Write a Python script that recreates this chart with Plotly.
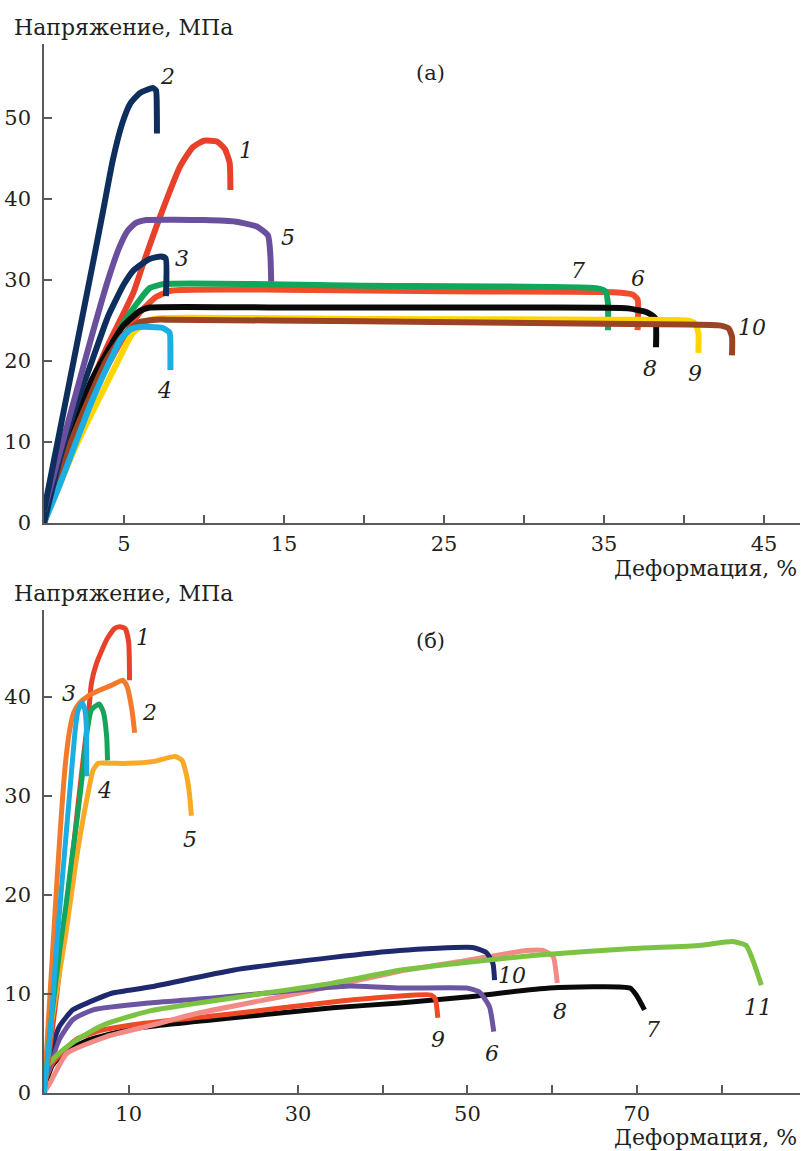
import plotly.graph_objects as go

# ---------------- Panel (a) data: strain %, stress MPa ----------------
a1_x = [0, 1, 2, 3, 4, 5, 5.6, 6.2, 7.25, 8.5, 9.3, 10, 10.8, 11.3, 11.6, 11.65]
a1_y = [0, 7, 12.5, 17.5, 22, 26, 28.5, 32, 37.8, 44, 46.4, 47.2, 47.1, 46.2, 44.5, 41.1]
a2_x = [0, 1, 2, 3.1, 3.7, 4.3, 4.9, 5.4, 6.0, 6.8, 7.0, 7.05, 7.06]
a2_y = [1.5, 11.5, 21.5, 32.5, 38.6, 44.8, 49.4, 51.8, 53.1, 53.7, 53.4, 51, 48.1]
a3_x = [0, 1, 2, 3, 4, 5, 5.6, 6.6, 7.3, 7.6, 7.62]
a3_y = [0, 8, 14.5, 20, 25.5, 29.5, 31.2, 32.6, 32.9, 32.7, 28]
a4_x = [0, 1, 2.9, 4, 4.8, 5.4, 6.0, 7.4, 7.85, 7.9, 7.9]
a4_y = [0, 4.8, 14.6, 19.5, 22.7, 23.9, 24.2, 24.1, 23.5, 21.5, 18.9]
a5_x = [0, 1, 2, 3, 4, 4.7, 5.2, 5.7, 6.4, 10, 12, 13.3, 14.0, 14.15, 14.2]
a5_y = [1.5, 8.8, 16, 23.2, 30, 34, 36, 37, 37.4, 37.4, 37.2, 36.6, 35.5, 33, 29.8]
a6_x = [0, 1, 2, 3, 4, 5, 6, 7, 8, 15, 25, 35.6, 36.8, 37.1, 37.1]
a6_y = [0, 6, 11, 15.5, 19.5, 23, 26, 27.9, 28.7, 28.8, 28.6, 28.5, 28.2, 27.6, 23.8]
a7_x = [0, 1, 2, 3, 4, 4.9, 6, 6.6, 7.5, 20, 34.5, 35.1, 35.25, 35.25]
a7_y = [0, 6, 11, 16, 20.5, 24.5, 27.6, 29.0, 29.5, 29.3, 29.0, 28.6, 27, 23.8]
a8_x = [0, 1.4, 2.9, 4.9, 6, 6.6, 15, 30, 36.5, 37.7, 38.2, 38.25]
a8_y = [0, 9, 17.3, 24.2, 26.2, 26.6, 26.6, 26.6, 26.5, 26.0, 25.3, 21.7]
a9_x = [0, 2, 4.5, 5.5, 6.5, 7.5, 20, 35, 40.2, 40.7, 40.9, 40.9]
a9_y = [0, 9.5, 19.5, 23.3, 25.0, 25.3, 25.2, 25.1, 25.0, 24.6, 23.5, 21]
a10_x = [0, 1.8, 3.9, 5, 6, 7, 8, 20, 35, 42.2, 42.8, 43, 43]
a10_y = [0, 10.6, 20.1, 23.3, 24.8, 25.1, 25.1, 24.9, 24.6, 24.4, 24.0, 23, 20.7]

a_names = ["1", "2", "3", "4", "5", "6", "7", "8", "9", "10"]
a_colors = ["#e8412b", "#0e2f5e", "#0e2f5e", "#1bafe3", "#6a4f9f",
            "#ef4d2b", "#12a65b", "#0a0a0a", "#ffd500", "#9b4323"]
a_label_x = [12.6, 7.7, 8.6, 7.56, 15.25, 37.1, 33.4, 37.9, 40.7, 44.25]
a_label_y = [46.0, 55.1, 32.7, 16.4, 35.3, 30.2, 31.2, 19.1, 18.5, 24.1]

# ---------------- Panel (б) data ----------------
b1_x = [0, 1, 2, 3, 4, 4.8, 5.3, 5.6, 6.2, 7.4, 8.3, 8.95, 9.6, 10.0, 10.1]
b1_y = [0, 6.5, 13.5, 21, 29, 35, 38.7, 41.4, 43.4, 45.8, 46.9, 47.1, 46.9, 45.5, 41.7]
b2_x = [0, 0.5, 1, 1.5, 2, 2.5, 3, 3.5, 4.2, 5.2, 6.6, 8, 9.3, 9.8, 10.4, 10.7]
b2_y = [0, 7, 14, 21, 27.5, 33, 36.5, 38.4, 39.4, 40.1, 40.7, 41.2, 41.7, 41.1, 38.6, 36.4]
b3_x = [0, 0.5, 1, 1.6, 2.4, 2.9, 3.3, 3.7, 4.0, 4.5, 4.8, 5.0, 5.05]
b3_y = [0, 4, 9, 16, 24, 29, 33, 36.8, 38.6, 39.4, 38.8, 37, 32]
b4_x = [0, 0.9, 1.85, 2.6, 3.3, 3.9, 4.6, 5.0, 5.6, 6.5, 7.0, 7.4, 7.5]
b4_y = [0, 7.7, 14.4, 19, 23.8, 27.6, 32.6, 36, 38.7, 39.3, 38.5, 36, 33.6]
b5_x = [0, 0.3, 1.0, 1.8, 2.6, 3.8, 4.6, 5.8, 6.4, 8, 10, 13, 15.5, 16.3, 16.9, 17.2, 17.4]
b5_y = [0, 2.6, 7.7, 12, 16.2, 23.5, 27.6, 32.6, 33.3, 33.3, 33.3, 33.5, 34, 33.6, 31.8, 30, 28]
b6_x = [0, 1.8, 3.4, 5.8, 12.5, 20, 26.3, 36.1, 42, 49.9, 51.4, 52.6, 53.1]
b6_y = [1, 5.4, 7.4, 8.4, 9.1, 9.6, 10.1, 10.8, 10.6, 10.6, 10.2, 8.7, 6.2]
b7_x = [0, 1, 2.7, 5.4, 10.5, 22.3, 34.1, 42, 49.9, 59.7, 69.2, 70.0, 70.9]
b7_y = [0.5, 2.8, 4.3, 5.4, 6.5, 7.6, 8.6, 9.1, 9.7, 10.6, 10.6, 9.8, 8.4]
b8_x = [0, 0.7, 2.7, 7.4, 12.5, 18.4, 30.2, 42, 49.9, 57, 58.9, 60.1, 60.6]
b8_y = [0, 1, 4, 5.7, 6.8, 8.1, 10.1, 12.3, 13.4, 14.4, 14.4, 13.8, 11.1]
b9_x = [0, 1, 2.7, 4, 6.6, 10.5, 22.3, 34.1, 42, 45.7, 46.2, 46.5]
b9_y = [1, 3, 4.6, 5.5, 6.3, 6.9, 8.0, 9.2, 9.8, 9.9, 9.5, 7.6]
b10_x = [0, 0.3, 1.8, 3.4, 5.4, 8.1, 12.5, 22.3, 34.1, 42, 50.6, 52.2, 53.0, 53.2]
b10_y = [1.5, 3, 6.7, 8.4, 9.2, 10.1, 10.7, 12.4, 13.7, 14.4, 14.7, 14.2, 13.1, 11.4]
b11_x = [0, 0.3, 1.5, 3.4, 5.5, 7.4, 12.5, 22.3, 34.1, 42, 50, 57.7, 69.5, 77.4, 81.3, 82.9, 83.7, 84.7]
b11_y = [1.5, 2.6, 3.8, 5.1, 6.2, 7.0, 8.3, 9.6, 11.1, 12.4, 13.2, 13.9, 14.6, 14.9, 15.3, 14.9, 13.4, 10.9]

b_names = ["1", "2", "3", "4", "5", "6", "7", "8", "9", "10", "11"]
b_colors = ["#e8412b", "#f27a2a", "#1aaee3", "#13a55a", "#f9aa25", "#6c55a1",
            "#0a0a0a", "#f28b86", "#ef4a25", "#1f2a6e", "#7cc243"]
b_label_x = [11.7, 12.5, 3.0, 7.2, 17.2, 52.9, 71.9, 60.9, 46.5, 55.3, 84.3]
b_label_y = [46.0, 38.4, 40.4, 30.6, 25.6, 4.0, 6.4, 8.2, 5.4, 11.9, 8.6]

a_xs = [a1_x, a2_x, a3_x, a4_x, a5_x, a6_x, a7_x, a8_x, a9_x, a10_x]
a_ys = [a1_y, a2_y, a3_y, a4_y, a5_y, a6_y, a7_y, a8_y, a9_y, a10_y]
b_xs = [b1_x, b2_x, b3_x, b4_x, b5_x, b6_x, b7_x, b8_x, b9_x, b10_x, b11_x]
b_ys = [b1_y, b2_y, b3_y, b4_y, b5_y, b6_y, b7_y, b8_y, b9_y, b10_y, b11_y]

a_order = [0, 5, 6, 7, 8, 9, 3, 2, 4, 1]
b_order = [6, 8, 7, 5, 9, 10, 0, 1, 4, 3, 2]

SERIF = "DejaVu Serif"
TXT = "#231f20"

fig = go.Figure()
for i in a_order:
    fig.add_trace(go.Scatter(x=a_xs[i], y=a_ys[i], mode="lines", name=a_names[i],
                             line=dict(color=a_colors[i], width=6, shape="spline", smoothing=0.5),
                             xaxis="x", yaxis="y", showlegend=False))
for i in b_order:
    fig.add_trace(go.Scatter(x=b_xs[i], y=b_ys[i], mode="lines", name=b_names[i],
                             line=dict(color=b_colors[i], width=5, shape="spline", smoothing=0.5),
                             xaxis="x2", yaxis="y2", showlegend=False))

ann = []
for i in range(len(a_names)):
    ann.append(dict(x=a_label_x[i], y=a_label_y[i], xref="x", yref="y", text=a_names[i],
                    showarrow=False, font=dict(family=SERIF, size=22, color=TXT, style="italic")))
for i in range(len(b_names)):
    ann.append(dict(x=b_label_x[i], y=b_label_y[i], xref="x2", yref="y2", text=b_names[i],
                    showarrow=False, font=dict(family=SERIF, size=22, color=TXT, style="italic")))

H = 1151.0
W = 802.0
def py(p):
    return 1 - p / H

TITLE_SIZE = 22
ann += [
    dict(x=12 / W, y=py(27), xref="paper", yref="paper", xanchor="left", yanchor="middle",
         text="Напряжение, МПа", showarrow=False, font=dict(family=SERIF, size=TITLE_SIZE, color=TXT)),
    dict(x=12 / W, y=py(593), xref="paper", yref="paper", xanchor="left", yanchor="middle",
         text="Напряжение, МПа", showarrow=False, font=dict(family=SERIF, size=TITLE_SIZE, color=TXT)),
    dict(x=799 / W, y=py(568), xref="paper", yref="paper", xanchor="right", yanchor="middle",
         text="Деформация, %", showarrow=False, font=dict(family=SERIF, size=TITLE_SIZE, color=TXT)),
    dict(x=799 / W, y=py(1137), xref="paper", yref="paper", xanchor="right", yanchor="middle",
         text="Деформация, %", showarrow=False, font=dict(family=SERIF, size=TITLE_SIZE, color=TXT)),
    dict(x=430 / W, y=py(73), xref="paper", yref="paper", xanchor="center", yanchor="middle",
         text="(a)", showarrow=False, font=dict(family=SERIF, size=21, color=TXT)),
    dict(x=430 / W, y=py(641), xref="paper", yref="paper", xanchor="center", yanchor="middle",
         text="(б)", showarrow=False, font=dict(family=SERIF, size=21, color=TXT)),
]

axis_common = dict(showline=True, linecolor="#5a5a5a", linewidth=1.6, ticks="inside",
                   ticklen=8, tickwidth=1.6, tickcolor="#5a5a5a", showgrid=False, zeroline=False,
                   tickfont=dict(family=SERIF, size=21, color=TXT), automargin=False)

a_xticks = [5, 10, 15, 20, 25, 30, 35, 40, 45]
a_xtext = ["5", "", "15", "", "25", "", "35", "", "45"]
a_yticks = [0, 10, 20, 30, 40, 50]
b_xticks = [10, 20, 30, 40, 50, 60, 70, 80]
b_xtext = ["10", "", "30", "", "50", "", "70", ""]
b_yticks = [0, 10, 20, 30, 40]

fig.update_layout(
    width=802, height=1151, margin=dict(l=0, r=0, t=0, b=0),
    paper_bgcolor="white", plot_bgcolor="white",
    xaxis=dict(domain=[44 / W, 800 / W], range=[0, 47.25], anchor="y",
               tickvals=a_xticks, ticktext=a_xtext, ticklabelstandoff=1, **axis_common),
    yaxis=dict(domain=[py(523), py(44)], range=[0, 59.14], anchor="x",
               tickvals=a_yticks, ticklabelstandoff=7, **axis_common),
    xaxis2=dict(domain=[44 / W, 800 / W], range=[0, 89.26], anchor="y2",
                tickvals=b_xticks, ticktext=b_xtext, ticklabelstandoff=1, **axis_common),
    yaxis2=dict(domain=[py(1093), py(610)], range=[0, 48.79], anchor="x2",
                tickvals=b_yticks, ticklabelstandoff=7, **axis_common),
    annotations=ann,
)

fig.write_html("out.html")
